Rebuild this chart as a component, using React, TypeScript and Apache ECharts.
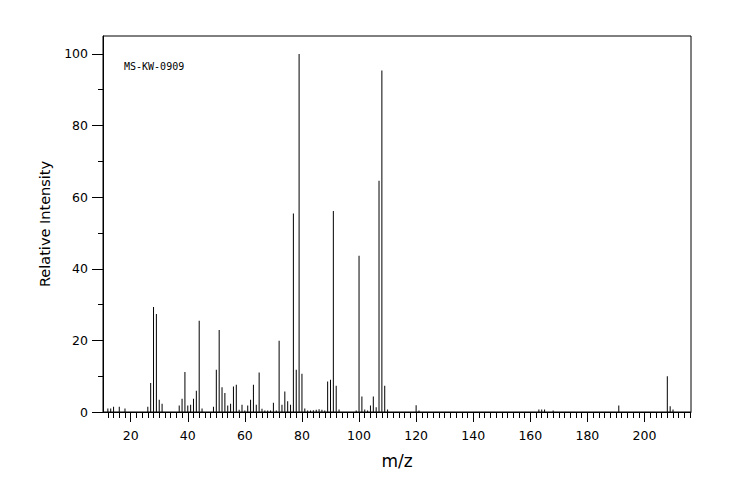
import React, { useEffect, useRef } from "react";
import * as echarts from "echarts";

// m/z values of the peaks
const mz: number[] = [
  12, 13, 14, 16, 18, 26, 27, 28, 29, 30, 31, 37, 38, 39, 40, 41, 42, 43, 44, 45,
  49, 50, 51, 52, 53, 54, 55, 56, 57, 58, 59, 60, 61, 62, 63, 64, 65, 66, 67, 68,
  69, 70, 71, 72, 73, 74, 75, 76, 77, 78, 79, 80, 81, 82, 83, 84, 85, 86, 87, 88,
  89, 90, 91, 92, 93, 99, 100, 101, 102, 103, 104, 105, 106, 107, 108, 109, 110,
  120, 121, 163, 164, 165, 168, 191, 208, 209, 210,
];
// relative intensities (%)
const intensity: number[] = [
  1.0, 1.0, 1.5, 1.5, 1.0, 1.5, 8.1, 29.3, 27.4, 3.4, 2.3, 1.8, 3.7, 11.2, 1.8, 2.0, 3.7, 5.9, 25.5, 1.0,
  1.5, 11.8, 22.9, 6.9, 5.3, 1.8, 2.3, 7.1, 7.6, 0.6, 2.0, 0.4, 1.8, 3.4, 7.6, 2.0, 11.0, 0.9, 0.4, 0.4,
  0.4, 2.6, 0.4, 19.9, 2.0, 5.7, 3.0, 2.0, 55.4, 11.8, 100, 10.7, 1.0, 0.4, 0.4, 0.5, 0.6, 0.8, 0.6, 0.4,
  8.5, 9.0, 56.1, 7.3, 0.7, 0.4, 43.6, 4.3, 0.7, 0.4, 1.8, 4.3, 1.3, 64.6, 95.4, 7.3, 0.7,
  1.9, 0.4, 0.7, 0.7, 0.7, 0.4, 1.8, 10.0, 1.6, 0.7,
];

const xTickValues: number[] = [20, 40, 60, 80, 100, 120, 140, 160, 180, 200];
const yTickValues: number[] = [0, 20, 40, 60, 80, 100];

const sampleName = "MS-KW-0909";
const xName = "m/z";
const yName = "Relative Intensity";

export default function App() {
  const ref = useRef<HTMLDivElement>(null);

  useEffect(() => {
    if (!ref.current) return;
    const chart = echarts.init(ref.current, undefined, { renderer: "svg" });
    const font = "DejaVu Sans";
    chart.setOption({
      animation: false,
      backgroundColor: "#ffffff",
      title: {
        text: sampleName,
        left: 124,
        top: 61,
        padding: 0,
        textStyle: {
          fontFamily: "DejaVu Sans Mono",
          fontSize: 10,
          fontWeight: "normal",
          color: "#000",
        },
      },
      grid: {
        left: 103,
        right: 53,
        top: 36,
        bottom: 88,
        show: true,
        borderColor: "#000",
        borderWidth: 1,
        backgroundColor: "transparent",
      },
      xAxis: {
        type: "value",
        min: 10.3,
        max: 216.3,
        splitNumber: 10,
        name: xName,
        nameLocation: "middle",
        nameGap: 40,
        nameTextStyle: { fontFamily: font, fontSize: 17, color: "#000" },
        axisLine: { show: true, lineStyle: { color: "#000", width: 1 } },
        axisTick: {
          show: true,
          length: 10,
          customValues: xTickValues,
          lineStyle: { color: "#000", width: 1 },
        },
        minorTick: {
          show: true,
          splitNumber: 10,
          length: 6,
          lineStyle: { color: "#000", width: 1 },
        },
        axisLabel: {
          customValues: xTickValues,
          margin: 17,
          fontFamily: font,
          fontSize: 12.5,
          color: "#000",
        },
        splitLine: { show: false },
      },
      yAxis: {
        type: "value",
        min: 0,
        max: 105,
        interval: 20,
        name: yName,
        nameLocation: "middle",
        nameGap: 51,
        nameTextStyle: { fontFamily: font, fontSize: 14.5, color: "#000" },
        axisLine: { show: true, lineStyle: { color: "#000", width: 1 } },
        axisTick: {
          show: true,
          length: 11,
          customValues: yTickValues,
          lineStyle: { color: "#000", width: 1 },
        },
        minorTick: {
          show: true,
          splitNumber: 2,
          length: 5,
          lineStyle: { color: "#000", width: 1 },
        },
        axisLabel: {
          customValues: yTickValues,
          margin: 15,
          fontFamily: font,
          fontSize: 12.5,
          color: "#000",
        },
        splitLine: { show: false },
      },
      series: [
        {
          type: "bar",
          barWidth: 1,
          itemStyle: { color: "#000" },
          data: mz.map((m, i) => [m, intensity[i]]),
        },
      ],
    });
    return () => chart.dispose();
  }, []);

  return (
    <div
      ref={ref}
      style={{ position: "absolute", left: 0, top: 0, width: 744, height: 500, background: "#fff" }}
    />
  );
}
